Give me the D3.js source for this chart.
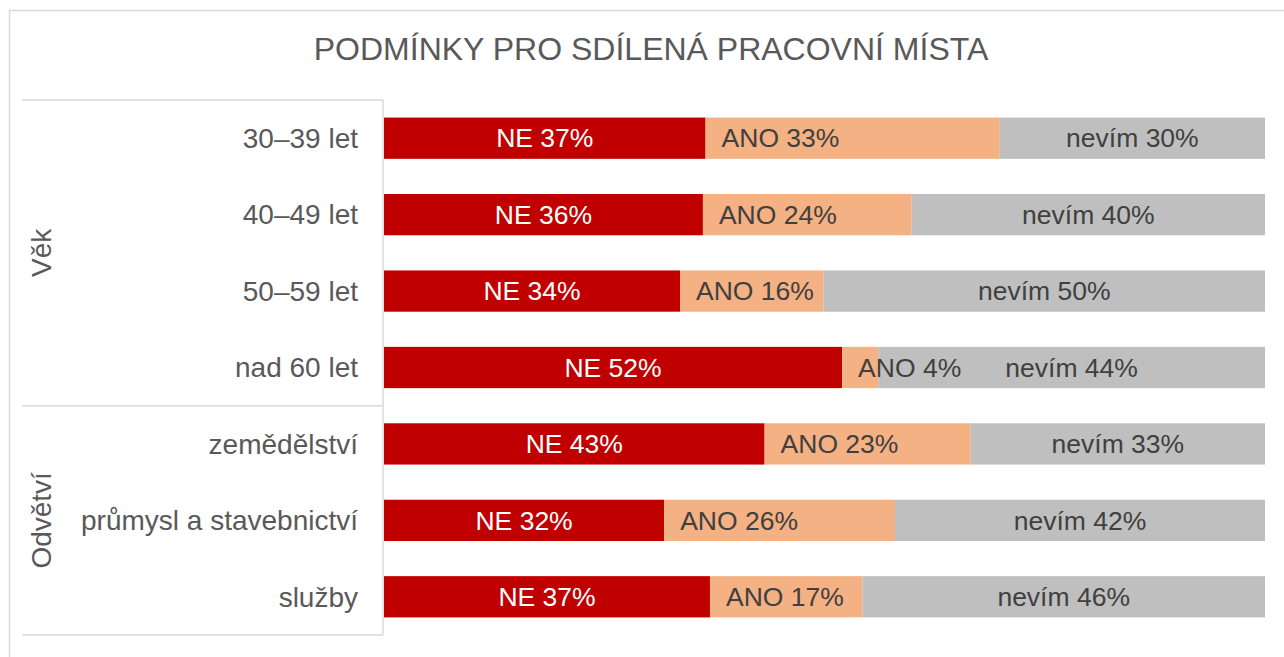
<!DOCTYPE html>
<html>
<head>
<meta charset="utf-8">
<script src="https://cdn.jsdelivr.net/npm/d3@7/dist/d3.min.js"></script>
<style>
  html, body { margin: 0; padding: 0; background: #ffffff; }
  svg { display: block; font-family: "Liberation Sans", Arial, sans-serif; }
</style>
</head>
<body>
<svg id="chart" width="1284" height="657"></svg>
<script>
const title = "PODMÍNKY PRO SDÍLENÁ PRACOVNÍ MÍSTA";
const categories = ["30–39 let", "40–49 let", "50–59 let", "nad 60 let", "zemědělství", "průmysl a stavebnictví", "služby"];
const groupNames = ["Věk", "Odvětví"];
const groupSizes = [4, 3];
const seriesNames = ["NE", "ANO", "nevím"];
// shares; labels show them rounded
const valuesNE = [36.5, 36.2, 33.6, 52.0, 43.2, 31.8, 37.0];
const valuesANO = [33.4, 23.7, 16.3, 4.1, 23.4, 26.2, 17.3];
const valuesNevim = [30.1, 40.1, 50.1, 43.9, 33.4, 42.0, 45.7];
const seriesColors = ["#C00000", "#F4B183", "#BFBFBF"];
const labelColors = ["#ffffff", "#404040", "#404040"];

const rows = categories.map((c, i) => ({
  cat: c, NE: valuesNE[i], ANO: valuesANO[i], "nevím": valuesNevim[i]
}));

const svg = d3.select("#chart");
const plotLeft = 384, plotRight = 1265, plotTop = 100, plotBottom = 635;
const axisLeft = 22, axisX = 383;
const gridColor = "#d9d9d9";

// outer frame
svg.append("rect")
  .attr("x", 9.5).attr("y", 10.5).attr("width", 1400).attr("height", 800)
  .attr("fill", "none").attr("stroke", gridColor).attr("stroke-width", 1.5);

// title
svg.append("text")
  .attr("x", 651).attr("y", 60)
  .attr("text-anchor", "middle")
  .attr("font-size", 32)
  .attr("fill", "#595959")
  .text(title);

const x = d3.scaleLinear().domain([0, 1]).range([plotLeft, plotRight]);
const y = d3.scaleBand().domain(categories).range([plotTop, plotBottom])
  .paddingInner(0.46).paddingOuter(0.23);

const stack = d3.stack().keys(seriesNames).offset(d3.stackOffsetExpand);
const stacked = stack(rows);

const layers = svg.append("g").selectAll("g.layer")
  .data(stacked).join("g").attr("class", "layer")
  .attr("fill", (d, i) => seriesColors[i]);

layers.selectAll("rect")
  .data(d => d.map(p => ({p, key: d.key})))
  .join("rect")
  .attr("x", d => x(d.p[0]))
  .attr("y", d => y(d.p.data.cat))
  .attr("width", d => x(d.p[1]) - x(d.p[0]))
  .attr("height", y.bandwidth());

// data labels
const labelSize = 26.5;
stacked.forEach((layer, si) => {
  svg.append("g").selectAll("text")
    .data(layer)
    .join("text")
    .attr("x", p => si === 1 ? x(p[0]) + 16 : (x(p[0]) + x(p[1])) / 2)
    .attr("y", p => y(p.data.cat) + y.bandwidth() / 2)
    .attr("dy", "0.35em")
    .attr("text-anchor", si === 1 ? "start" : "middle")
    .attr("font-size", labelSize)
    .attr("fill", labelColors[si])
    .text(p => layer.key + " " + Math.round(p.data[layer.key]) + "%");
});

// category labels
svg.append("g").selectAll("text")
  .data(categories).join("text")
  .attr("x", 358)
  .attr("y", c => y(c) + y.bandwidth() / 2)
  .attr("dy", "0.35em")
  .attr("text-anchor", "end")
  .attr("font-size", 28)
  .attr("fill", "#595959")
  .text(c => c);

// group axis
const step = y.step();
const axisG = svg.append("g").attr("stroke", gridColor).attr("stroke-width", 1.5);
axisG.append("line").attr("x1", axisX).attr("x2", axisX)
  .attr("y1", plotTop).attr("y2", plotBottom);
let start = 0;
const bounds = [0];
groupSizes.forEach(n => { start += n; bounds.push(start); });
bounds.forEach(b => {
  const yy = plotTop + b * step;
  axisG.append("line").attr("x1", axisLeft).attr("x2", axisX)
    .attr("y1", yy).attr("y2", yy);
});
groupNames.forEach((g, i) => {
  const cy = plotTop + (bounds[i] + bounds[i + 1]) / 2 * step;
  svg.append("text")
    .attr("transform", `translate(50.5,${cy}) rotate(-90)`)
    .attr("text-anchor", "middle")
    .attr("font-size", 28)
    .attr("fill", "#595959")
    .text(g);
});
</script>
</body>
</html>
